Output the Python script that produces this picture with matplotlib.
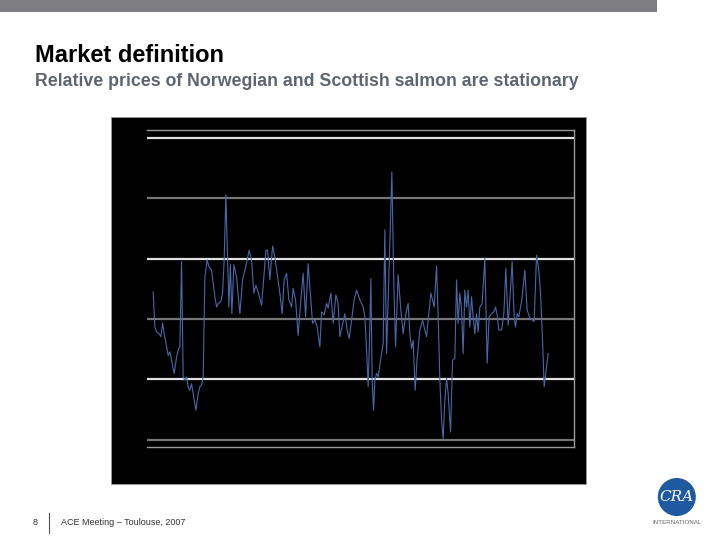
import matplotlib.pyplot as plt
from matplotlib.patches import Rectangle, Ellipse
from matplotlib.lines import Line2D

# relative price series, time in weeks from chart start
week = [6.3, 8, 9.7, 12, 14, 15.7, 17.3, 19.7, 21.3, 23,
        24.7, 27.3, 29.7, 31.3, 33, 34.7, 36.3, 38, 39.7, 41.3,
        43, 44.7, 46.3, 49, 51.3, 53, 54.7, 56.3, 58, 60.3,
        62, 64.7, 66.3, 68, 69.7, 71.3, 74, 75.7, 77.3, 79,
        80.7, 82, 83.5, 85, 87, 89.7, 93, 95.7, 98, 100.3,
        102.3, 104.7, 107, 109, 111.3, 114.7, 117, 119, 120.7, 123,
        125.7, 128, 130.3, 133, 135.3, 137.3, 139.7, 142, 144.7, 146.3,
        148.7, 151.3, 153.7, 156.3, 158.7, 161.3, 165.7, 168, 170.3, 173,
        174.7, 177.3, 179.7, 181.3, 184, 186.3, 189, 191.3, 193, 198,
        200.3, 202.3, 204.7, 207.3, 209.7, 213, 216.3, 218, 219.7, 221.3,
        223, 224, 225.3, 226.7, 228, 229.7, 231.3, 234.7, 236.3, 238,
        239.7, 241.3, 243, 245, 247, 248.7, 251.3, 254, 256.3, 259,
        261.3, 263, 264.7, 266.3, 268.3, 270.3, 273, 275.7, 278, 279.7,
        282, 284, 285.7, 287.3, 289.7, 291.3, 293, 294.7, 296.3, 298,
        299.7, 301.3, 303.7, 305.7, 308, 309.7, 311.3, 313, 314.7, 316.3,
        318, 319.7, 321.3, 323, 324.7, 326.3, 328, 329.7, 331.3, 333,
        335.3, 338, 340.3, 342.3, 344.7, 347, 348.7, 350.3, 352, 354.7,
        357, 359, 361.3, 363, 365.3, 367.3, 368.7, 370.3, 372, 375,
        378, 380.3, 383, 387.3, 389.7, 392, 393.7, 395.7, 397.3, 399.7, 401.3]
rel_price = [0.45, -0.13, -0.21, -0.24, -0.29, -0.07, -0.24, -0.46, -0.60, -0.54,
             -0.68, -0.90, -0.63, -0.51, -0.46, 0.95, -0.96, -1.01, -0.96, -1.12,
             -1.18, -1.07, -1.23, -1.51, -1.23, -1.12, -1.09, -0.96, 0.70, 0.98,
             0.87, 0.81, 0.59, 0.37, 0.20, 0.26, 0.29, 0.43, 0.98, 2.06,
             0.98, 0.20, 0.90, 0.09, 0.90, 0.70, 0.09, 0.65, 0.81, 0.98,
             1.14, 0.98, 0.43, 0.56, 0.45, 0.23, 0.70, 1.14, 1.14, 0.65,
             1.21, 1.03, 0.76, 0.43, 0.09, 0.65, 0.76, 0.32, 0.20, 0.51,
             0.32, -0.27, 0.26, 0.76, 0.04, 0.92, -0.07, -0.02, -0.13, -0.46,
             0.12, 0.07, 0.26, 0.18, 0.43, -0.07, 0.40, 0.26, -0.29, 0.09,
             -0.18, -0.32, -0.02, 0.32, 0.48, 0.32, 0.20, 0.04, -0.51, -1.12,
             -0.13, 0.67, -1.01, -1.51, -1.01, -0.90, -0.96, -0.57, -0.40, 1.48,
             -0.57, 0.32, 1.26, 2.44, 0.54, -0.46, 0.73, 0.15, -0.24, 0.09,
             0.26, -0.24, -0.49, -0.35, -1.18, -0.65, -0.18, -0.02, -0.18, -0.29,
             0.09, 0.43, 0.32, 0.20, 0.88, 0.04, -1.01, -1.67, -1.98, -1.34,
             -0.98, -1.23, -1.87, -0.68, -0.65, 0.65, -0.07, 0.43, 0.15, -0.57,
             0.48, 0.20, 0.48, -0.13, 0.37, 0.04, -0.24, 0.09, -0.21, 0.20,
             0.26, 1.01, -0.73, 0.04, 0.09, 0.12, 0.20, 0.07, -0.18, -0.18,
             0.09, 0.84, -0.10, 0.32, 0.95, 0.04, -0.13, 0.09, 0.04, 0.32,
             0.81, 0.15, 0.02, -0.04, 1.06, 0.81, 0.43, -0.35, -1.12, -0.79, -0.57]

grid_levels = [3, 2, 1, 0, -1, -2]
grid_colors = ['#e0e0e0', '#767676', '#e0e0e0', '#767676', '#e0e0e0', '#767676']

title = 'Market definition'
subtitle = 'Relative prices of Norwegian and Scottish salmon are stationary'
footer = 'ACE Meeting \u2013 Toulouse, 2007'

fig = plt.figure(figsize=(7.2, 5.4), dpi=100)
fig.patch.set_facecolor('white')

# grey bar at the top of the slide
fig.patches.append(Rectangle((0, 0.978), 0.9125, 0.022, transform=fig.transFigure,
                             facecolor='#7e7d82', edgecolor='none', zorder=-2))

fig.text(0.048, 0.885, title, family='Liberation Sans', weight='bold',
         fontsize=17, color='black')
fig.text(0.048, 0.841, subtitle, family='Liberation Sans', weight='bold',
         fontsize=12.8, color='#5d6670')

# black chart box
fig.patches.append(Rectangle((0.154, 0.1037), 0.66, 0.6793, transform=fig.transFigure,
                             facecolor='black', edgecolor='#9a9a9a', linewidth=0.6,
                             zorder=-1))

ax = fig.add_axes([0.204, 0.172, 0.593, 0.587])
ax.set_zorder(2)
ax.set_facecolor('black')
for lvl, col in zip(grid_levels, grid_colors):
    ax.axhline(lvl, color=col, linewidth=1.6, zorder=1)
ax.plot(week, rel_price, color='#4868a8', linewidth=0.8, zorder=3)
ax.set_xlim(0, 427)
ax.set_ylim(-2.12, 3.13)
ax.set_xticks([])
ax.set_yticks([])
ax.spines['left'].set_visible(False)
for s in ['top', 'right', 'bottom']:
    ax.spines[s].set_color('#9a9a9a')
    ax.spines[s].set_linewidth(1.0)

# footer
fig.text(0.046, 0.028, '8', family='Liberation Sans', fontsize=6.5, color='#333333')
fig.lines.append(Line2D([0.068, 0.068], [0.013, 0.05], transform=fig.transFigure,
                        color='#555555', linewidth=0.8))
fig.text(0.085, 0.028, footer, family='Liberation Sans', fontsize=6.5, color='#333333')

# CRA logo
fig.patches.append(Ellipse((0.94, 0.0796), 0.0528, 0.0704, transform=fig.transFigure,
                           facecolor='#1f5aa0', edgecolor='none'))
fig.text(0.94, 0.08, 'CRA', family='DejaVu Serif', style='italic', fontsize=11,
         color='white', ha='center', va='center')
fig.text(0.94, 0.033, 'INTERNATIONAL', family='Liberation Sans', fontsize=4.5,
         color='#666666', ha='center', va='center')

fig.savefig('out.png', dpi=100)
